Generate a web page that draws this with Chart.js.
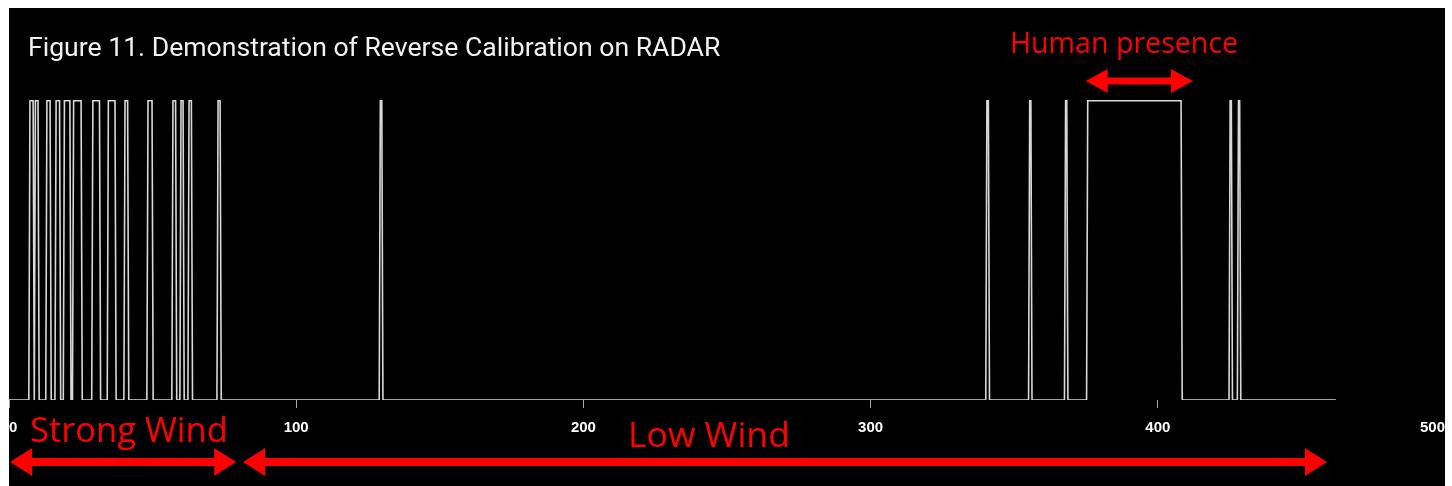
<!DOCTYPE html>
<html>
<head>
<meta charset="utf-8">
<script src="https://cdn.jsdelivr.net/npm/chart.js@4"></script>
<style>
  html, body { margin: 0; padding: 0; background: #fff; }
  .wrap { position: absolute; left: 9px; top: 8px; width: 1436px; height: 478px; background: #000; }
</style>
</head>
<body>
<div class="wrap"><canvas id="radar"></canvas></div>
<script>
// radar output: 1 = detection, 0 = nothing. pulses given as start / end sample
const pulseStart = [7.3, 9.2, 13.2, 16.4, 19.3, 22.5, 29.2, 34.6, 40.4, 48.4, 57.1, 59.9, 62.7, 72.8,
                    129.3, 340.5, 355.4, 367.9, 375.6, 425.2, 428.1];
const pulseEnd   = [8.4, 10.1, 14.3, 17.6, 21.2, 25.1, 31.5, 36.9, 41.3, 49.8, 58.0, 60.6, 63.5, 73.5,
                    129.8, 341.0, 355.8, 368.3, 408.1, 425.6, 428.5];
const sampleEnd = 462;
const xTicks = [0, 100, 200, 300, 400, 500];

const titleText = "Figure 11. Demonstration of Reverse Calibration on RADAR";
// annotation ranges (x units)
const strongWind = [0.4, 79.1];
const lowWind = [81.5, 458.9];
const humanPresence = [374.9, 412.2];

// build the step trace from the pulses
const points = [{x: 0, y: 0}];
pulseStart.forEach((s, i) => {
    points.push({x: s - 0.4, y: 0});
    points.push({x: s, y: 1});
    points.push({x: pulseEnd[i], y: 1});
    points.push({x: pulseEnd[i] + 0.4, y: 0});
});
points.push({x: sampleEnd, y: 0});

function fitFont(ctx, text, width, family, weight) {
    ctx.font = weight + " 100px " + family;
    let size = 100 * width / ctx.measureText(text).width;
    ctx.font = weight + " " + size.toFixed(1) + "px " + family;
}

function arrow(ctx, x1, x2, y, shaft, headLen, headH) {
    ctx.beginPath();
    ctx.moveTo(x1, y);
    ctx.lineTo(x1 + headLen, y - headH);
    ctx.lineTo(x1 + headLen, y - shaft / 2);
    ctx.lineTo(x2 - headLen, y - shaft / 2);
    ctx.lineTo(x2 - headLen, y - headH);
    ctx.lineTo(x2, y);
    ctx.lineTo(x2 - headLen, y + headH);
    ctx.lineTo(x2 - headLen, y + shaft / 2);
    ctx.lineTo(x1 + headLen, y + shaft / 2);
    ctx.lineTo(x1 + headLen, y + headH);
    ctx.closePath();
    ctx.fill();
}

const notes = {
    id: "notes",
    afterDraw(chart) {
        const ctx = chart.ctx, xs = chart.scales.x;
        ctx.save();
        ctx.textBaseline = "alphabetic";
        ctx.textAlign = "left";

        ctx.fillStyle = "#f2f2f2";
        fitFont(ctx, titleText, 693, "Roboto, sans-serif", "400");
        ctx.fillText(titleText, 19, 48);

        ctx.fillStyle = "#ff0000";
        arrow(ctx, xs.getPixelForValue(humanPresence[0]), xs.getPixelForValue(humanPresence[1]), 73, 7, 22, 12);
        arrow(ctx, xs.getPixelForValue(strongWind[0]), xs.getPixelForValue(strongWind[1]), 454, 8, 22, 14);
        arrow(ctx, xs.getPixelForValue(lowWind[0]), xs.getPixelForValue(lowWind[1]), 454, 8, 22, 14);

        fitFont(ctx, "Human presence", 228, "'Open Sans', sans-serif", "400");
        ctx.fillText("Human presence", 1001, 45);
        fitFont(ctx, "Strong Wind", 198, "'Liberation Sans Narrow', 'Open Sans', sans-serif", "400");
        ctx.fillText("Strong Wind", 21, 434);
        fitFont(ctx, "Low Wind", 162, "'Liberation Sans Narrow', 'Open Sans', sans-serif", "400");
        ctx.fillText("Low Wind", 619, 439);
        ctx.restore();
    }
};

new Chart(document.getElementById("radar"), {
    type: "line",
    data: {
        datasets: [{
            data: points,
            borderColor: "#d8d8d8",
            borderWidth: 1.6,
            pointRadius: 0,
            tension: 0,
            fill: false
        }]
    },
    options: {
        responsive: true,
        maintainAspectRatio: false,
        animation: false,
        events: [],
        layout: { autoPadding: false, padding: { top: 18, bottom: 38, left: 0, right: 0 } },
        plugins: { legend: { display: false }, tooltip: { enabled: false } },
        scales: {
            x: {
                type: "linear",
                min: 0,
                max: 500,
                afterBuildTicks: axis => { axis.ticks = xTicks.map(v => ({value: v})); },
                afterFit: axis => { axis.paddingLeft = 0; axis.paddingRight = 0; },
                border: { display: false },
                grid: { drawOnChartArea: false, drawTicks: true, tickLength: 8, color: "#aaa", tickWidth: 1 },
                ticks: {
                    color: "#fff",
                    align: "inner",
                    maxRotation: 0,
                    padding: 11,
                    font: { family: "'Liberation Sans', Arial, sans-serif", size: 15, weight: "bold" }
                }
            },
            y: {
                display: false,
                min: 0,
                max: 1.25
            }
        }
    },
    plugins: [notes]
});
</script>
</body>
</html>
